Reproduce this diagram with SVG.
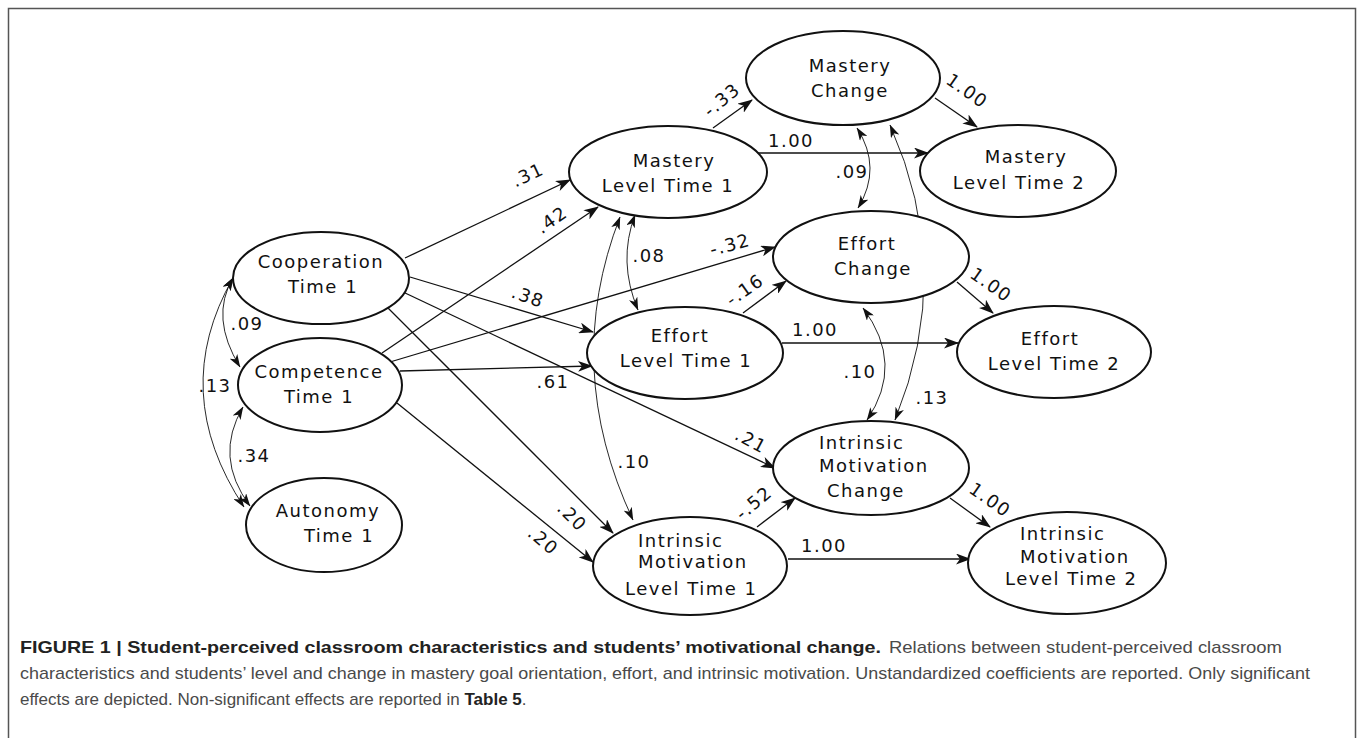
<svg xmlns="http://www.w3.org/2000/svg" width="1358" height="738" viewBox="0 0 1358 738">
<style>
.node ellipse{fill:#fff;stroke:#111;stroke-width:2}
.nt{font-family:"DejaVu Sans",Verdana,sans-serif;font-size:18px;letter-spacing:1.5px;fill:#111}
.lbl{font-family:"DejaVu Sans",Verdana,sans-serif;font-size:18px;letter-spacing:1.5px;fill:#111;text-anchor:middle}
.m{text-anchor:middle}
.path{fill:none;stroke:#111;stroke-width:1.3;marker-end:url(#ah)}
.cov{fill:none;stroke:#111;stroke-width:0.9;marker-start:url(#ah2);marker-end:url(#ah2)}
.cap{font-family:"Liberation Sans",Arial,sans-serif;font-size:17px;fill:#4a4a4a}
.b{font-weight:bold;fill:#222}
</style>
<defs>
<marker id="ah" viewBox="0 0 15 11" refX="14" refY="5.5" markerWidth="15" markerHeight="11" orient="auto" markerUnits="userSpaceOnUse"><path d="M0,0 L15,5.5 L0,11 L4,5.5 z" fill="#111"/></marker>
<marker id="ah2" viewBox="0 0 13 9" refX="12.5" refY="4.5" markerWidth="13" markerHeight="9" orient="auto-start-reverse" markerUnits="userSpaceOnUse"><path d="M0,0 L13,4.5 L0,9 L3.5,4.5 z" fill="#111"/></marker>
</defs>
<rect x="0" y="0" width="1358" height="738" fill="#fff"/>
<path d="M8.5,745 L8.5,8.5 L1355.5,8.5 L1355.5,745" fill="none" stroke="#555" stroke-width="1.5"/>

<g id="connectors">
<line class="path" x1="405" y1="258" x2="570" y2="180"/>
<line class="path" x1="382" y1="353" x2="598" y2="207"/>
<line class="path" x1="410" y1="277" x2="593" y2="332"/>
<line class="path" x1="390" y1="362" x2="775" y2="247"/>
<line class="path" x1="400" y1="371" x2="592" y2="366"/>
<line class="path" x1="403" y1="292" x2="775" y2="468"/>
<line class="path" x1="388" y1="308" x2="613" y2="533"/>
<line class="path" x1="397" y1="403" x2="593" y2="562"/>
<line class="path" x1="713" y1="128" x2="752" y2="100"/>
<line class="path" x1="758" y1="153" x2="928" y2="153"/>
<line class="path" x1="935" y1="98" x2="977" y2="127"/>
<line class="path" x1="743" y1="313" x2="786" y2="281"/>
<line class="path" x1="782" y1="343" x2="958" y2="343"/>
<line class="path" x1="957" y1="282" x2="993" y2="313"/>
<line class="path" x1="757" y1="527" x2="795" y2="498"/>
<line class="path" x1="788" y1="559" x2="970" y2="559"/>
<line class="path" x1="950" y1="498" x2="990" y2="527"/>
<path class="cov" d="M233,278 Q209.5,317.5 240,367"/>
<path class="cov" d="M233,278 Q168,392 244,507"/>
<path class="cov" d="M243,407 Q213.5,457 250,506"/>
<path class="cov" d="M635,215 Q617.5,261.5 638,310"/>
<path class="cov" d="M620,217 Q561.5,367.5 633,520"/>
<path class="cov" d="M857,128 Q882.5,168 858,208"/>
<path class="cov" d="M890,125 Q955.5,271.5 895,420"/>
<path class="cov" d="M863,308 Q905,364 867,420"/>
<text class="lbl" transform="rotate(-25 528 175)" x="528" y="181">.31</text>
<text class="lbl" transform="rotate(-35 552 220)" x="552" y="226">.42</text>
<text class="lbl" transform="rotate(20 528 297)" x="528" y="303">.38</text>
<text class="lbl" transform="rotate(-15 730 245)" x="730" y="251">-.32</text>
<text class="lbl" transform="rotate(-35 745 290)" x="745" y="296">-.16</text>
<text class="lbl" x="649" y="262">.08</text>
<text class="lbl" x="553" y="388">.61</text>
<text class="lbl" x="815" y="336">1.00</text>
<text class="lbl" transform="rotate(35 991 285)" x="991" y="291">1.00</text>
<text class="lbl" x="860" y="378">.10</text>
<text class="lbl" x="932" y="404">.13</text>
<text class="lbl" x="852" y="178">.09</text>
<text class="lbl" transform="rotate(-40 722 100)" x="722" y="106">-.33</text>
<text class="lbl" x="791" y="147">1.00</text>
<text class="lbl" transform="rotate(35 967 91)" x="967" y="97">1.00</text>
<text class="lbl" x="247" y="330">.09</text>
<text class="lbl" x="215" y="392">.13</text>
<text class="lbl" x="254" y="462">.34</text>
<text class="lbl" transform="rotate(28 751 441)" x="751" y="447">.21</text>
<text class="lbl" x="634" y="468">.10</text>
<text class="lbl" transform="rotate(45 572 517)" x="572" y="523">.20</text>
<text class="lbl" transform="rotate(40 543 541)" x="543" y="547">.20</text>
<text class="lbl" transform="rotate(-40 754 503)" x="754" y="509">-.52</text>
<text class="lbl" x="824" y="552">1.00</text>
<text class="lbl" transform="rotate(35 990 500)" x="990" y="506">1.00</text>
</g>

<g id="cooperation" class="node"><ellipse cx="321" cy="278" rx="88" ry="46"/><text class="nt m"><tspan x="321" y="268">Cooperation</tspan><tspan x="323" y="293">Time 1</tspan></text></g>
<g id="competence" class="node"><ellipse cx="320" cy="385" rx="82" ry="47"/><text class="nt m"><tspan x="319" y="378">Competence</tspan><tspan x="319" y="403">Time 1</tspan></text></g>
<g id="autonomy" class="node"><ellipse cx="324" cy="525" rx="78" ry="47"/><text class="nt m"><tspan x="328" y="517">Autonomy</tspan><tspan x="339" y="542">Time 1</tspan></text></g>
<g id="mastery-level-t1" class="node"><ellipse cx="668" cy="172" rx="99" ry="46"/><text class="nt m"><tspan x="674" y="167">Mastery</tspan><tspan x="668" y="192">Level Time 1</tspan></text></g>
<g id="mastery-change" class="node"><ellipse cx="843" cy="78" rx="97" ry="47"/><text class="nt m"><tspan x="850" y="72">Mastery</tspan><tspan x="850" y="97">Change</tspan></text></g>
<g id="mastery-level-t2" class="node"><ellipse cx="1018" cy="171" rx="98" ry="46"/><text class="nt m"><tspan x="1026" y="163">Mastery</tspan><tspan x="1019" y="189">Level Time 2</tspan></text></g>
<g id="effort-change" class="node"><ellipse cx="871" cy="257" rx="98" ry="46"/><text class="nt m"><tspan x="867" y="250">Effort</tspan><tspan x="873" y="275">Change</tspan></text></g>
<g id="effort-level-t1" class="node"><ellipse cx="685" cy="353" rx="98" ry="46"/><text class="nt m"><tspan x="680" y="342">Effort</tspan><tspan x="686" y="367">Level Time 1</tspan></text></g>
<g id="effort-level-t2" class="node"><ellipse cx="1054" cy="352" rx="97" ry="46"/><text class="nt m"><tspan x="1050" y="345">Effort</tspan><tspan x="1054" y="370">Level Time 2</tspan></text></g>
<g id="im-level-t1" class="node"><ellipse cx="690" cy="566" rx="97" ry="49"/><text class="nt"><tspan x="638" y="547">Intrinsic</tspan><tspan x="638" y="568">Motivation</tspan><tspan x="625" y="595">Level Time 1</tspan></text></g>
<g id="im-change" class="node"><ellipse cx="871" cy="468" rx="98" ry="47"/><text class="nt"><tspan x="819" y="449">Intrinsic</tspan><tspan x="819" y="472">Motivation</tspan><tspan x="827" y="497">Change</tspan></text></g>
<g id="im-level-t2" class="node"><ellipse cx="1067" cy="563" rx="99" ry="51"/><text class="nt"><tspan x="1020" y="540">Intrinsic</tspan><tspan x="1020" y="563">Motivation</tspan><tspan x="1005" y="585">Level Time 2</tspan></text></g>

<g id="caption">
<text class="cap b" x="20" y="653" textLength="861" lengthAdjust="spacingAndGlyphs">FIGURE 1 | Student-perceived classroom characteristics and students’ motivational change.</text>
<text class="cap" x="889" y="653" textLength="393" lengthAdjust="spacingAndGlyphs">Relations between student-perceived classroom</text>
<text class="cap" x="20" y="679" textLength="1290" lengthAdjust="spacingAndGlyphs">characteristics and students’ level and change in mastery goal orientation, effort, and intrinsic motivation. Unstandardized coefficients are reported. Only significant</text>
<text class="cap" x="20" y="705">effects are depicted. Non-significant effects are reported in <tspan class="b">Table 5</tspan>.</text>
</g>
</svg>
